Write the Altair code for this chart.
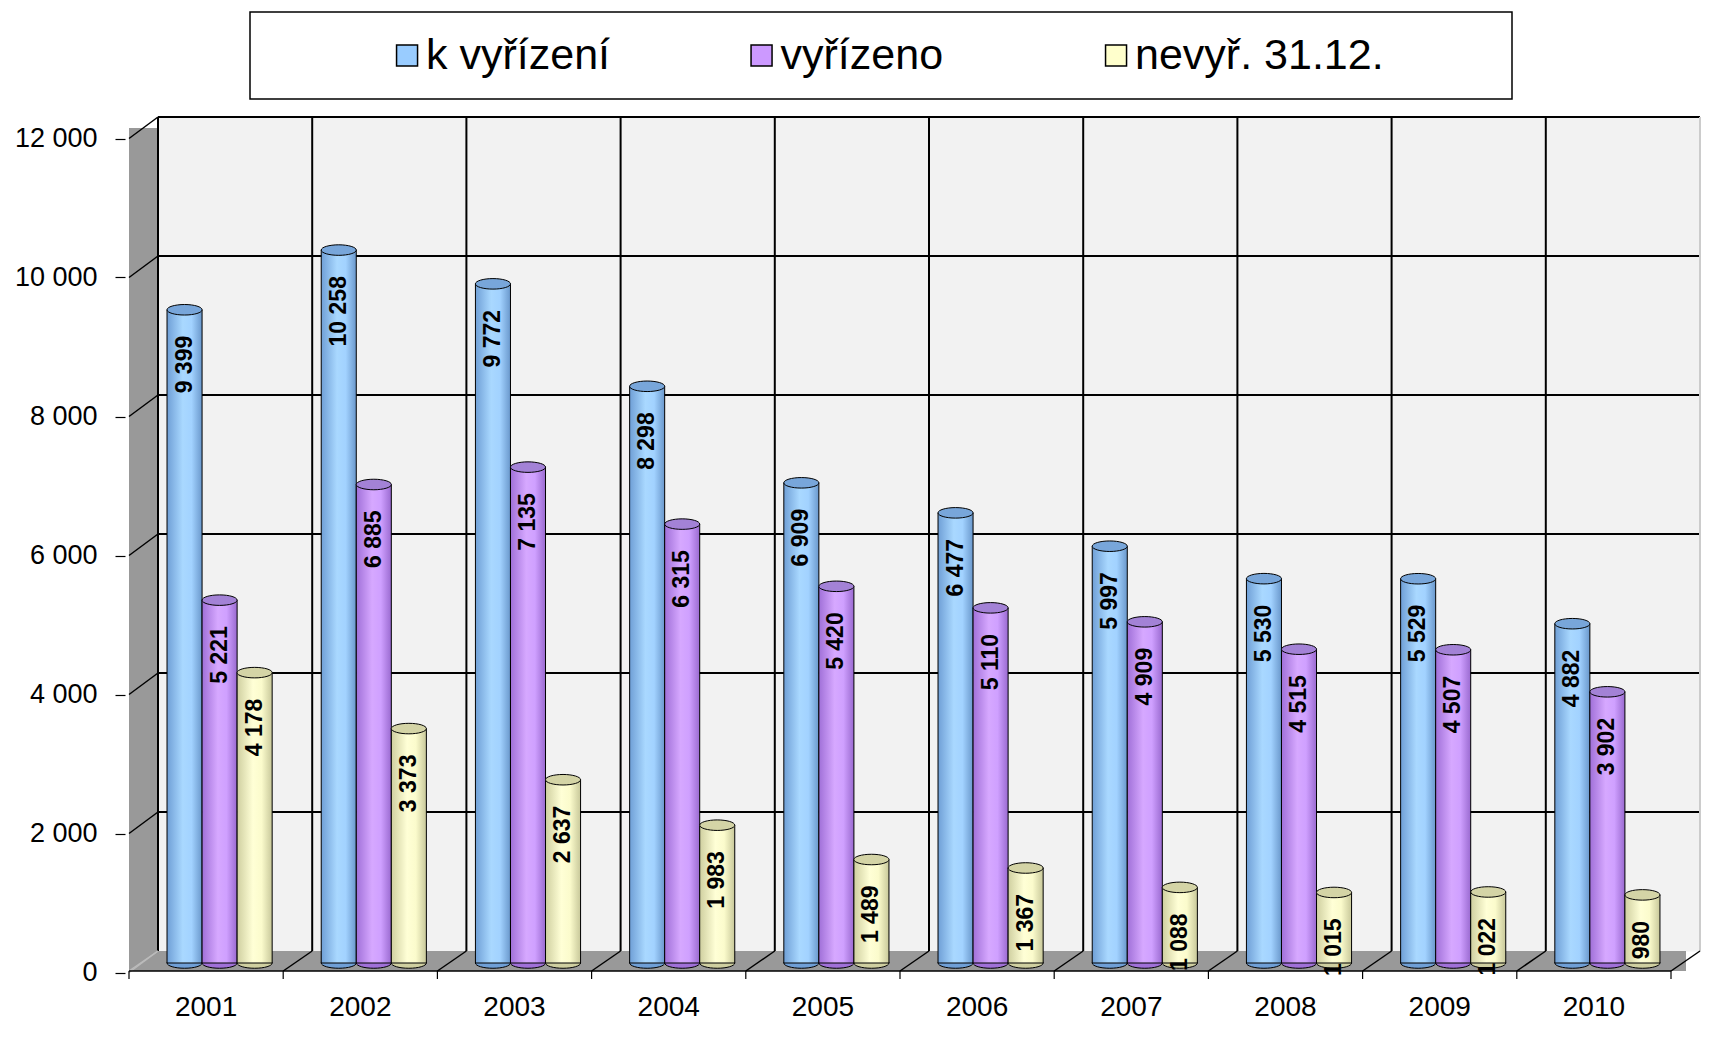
import altair as alt
import pandas as pd

FONT = "Liberation Sans"

years = ["2001", "2002", "2003", "2004", "2005", "2006", "2007", "2008", "2009", "2010"]
series = ["k vyřízení", "vyřízeno", "nevyř. 31.12."]
k_vyrizeni = [9399, 10258, 9772, 8298, 6909, 6477, 5997, 5530, 5529, 4882]
vyrizeno = [5221, 6885, 7135, 6315, 5420, 5110, 4909, 4515, 4507, 3902]
nevyrizeno = [4178, 3373, 2637, 1983, 1489, 1367, 1088, 1015, 1022, 980]
y_ticks = [0, 2000, 4000, 6000, 8000, 10000, 12000]

legend_colors = ["#99ccff", "#cc99ff", "#ffffcc"]
cap_colors = ["#78a6da", "#a382d6", "#d4d4a6"]
grad_stops = [
    ["#6f9fd6", "#a9d8ff", "#a2d2ff", "#6a98cc"],
    ["#a070d8", "#d6a8ff", "#cfa0ff", "#9a6ad0"],
    ["#cfcfa0", "#ffffd6", "#fbfbcc", "#c8c89a"],
]

rows = []
for s, vals in zip(series, [k_vyrizeni, vyrizeno, nevyrizeno]):
    for yr, v in zip(years, vals):
        rows.append({"year": yr, "series": s, "value": v,
                     "label": f"{v:,}".replace(",", " ")})
df = pd.DataFrame(rows)
bounds_df = pd.DataFrame({"k": list(range(len(years) + 1))})
grid_df = pd.DataFrame({"v": y_ticks})
one_df = pd.DataFrame({"one": [1]})

W, H = 1542, 834
DEPTH_X = -29
DEPTH_Y = 20
BAR_SHIFT = 12

yscale = alt.Scale(domain=[0, 12000], nice=False, zero=True)
kscale = alt.Scale(domain=[0, len(years)], nice=False, zero=False)
xband_scale = alt.Scale(domain=years, paddingInner=0, paddingOuter=0)
xoff_scale = alt.Scale(domain=series, paddingInner=0, paddingOuter=0.70, align=0.184)


def kx(field=None, datum=None):
    if field is not None:
        return alt.X(field, type="quantitative", scale=kscale, axis=None)
    return alt.XDatum(datum, type="quantitative", scale=kscale, axis=None)


def yd(v):
    return alt.YDatum(v, type="quantitative", scale=yscale, axis=None)


# ---- y axis panel (ticks/labels at the front edge of the 3D box) ----
yaxis_panel = alt.Chart(grid_df).mark_rule(opacity=0).encode(
    y=alt.Y("v:Q", scale=yscale, axis=alt.Axis(
        values=y_ticks, title=None, grid=False, domain=False, format=",d",
        tickColor="black", tickSize=10, tickWidth=1.2, tickOffset=21.5,
        labelFontSize=27, labelPadding=18, labelColor="black", labelFont=FONT))
).properties(width=1, height=H, view=alt.ViewBackground(stroke="transparent"))

# left side wall
wall = alt.Chart(one_df).mark_rect(
    fill="#999999", xOffset=DEPTH_X, yOffset=11, y2Offset=DEPTH_Y
).encode(x=kx(datum=0), x2=alt.X2Datum(0), y=yd(12000), y2=alt.Y2Datum(0))

# floor
floor = alt.Chart(one_df).mark_rect(
    fill="#999999", xOffset=DEPTH_X, x2Offset=-14, y2Offset=DEPTH_Y
).encode(x=kx(datum=0), x2=alt.X2Datum(len(years)), y=yd(0), y2=alt.Y2Datum(0))

# back wall horizontal grid lines
hgrid = alt.Chart(grid_df).transform_filter("datum.v > 0").mark_rule(
    strokeWidth=2, color="black"
).encode(
    x=kx(datum=0), x2=alt.X2Datum(len(years)),
    y=alt.Y("v:Q", scale=yscale, axis=None),
)

# back wall vertical category separators
vgrid = alt.Chart(bounds_df).mark_rule(strokeWidth=2).encode(
    x=kx("k"), y=yd(0), y2=alt.Y2Datum(12000),
    color=alt.condition("datum.k < 10", alt.value("black"), alt.value("#cccccc")),
)

# diagonals on the side wall
wall_diag = alt.Chart(grid_df).mark_rule(
    strokeWidth=1.5, xOffset=DEPTH_X, yOffset=21.5
).encode(
    x=kx(datum=0), x2=alt.X2Datum(0),
    y=alt.Y("v:Q", scale=yscale, axis=None), y2=alt.Y2("v:Q"),
    color=alt.condition("datum.v > 0", alt.value("black"), alt.value("#bbbbbb")),
)

# diagonals on the floor
floor_diag = alt.Chart(bounds_df).mark_rule(
    strokeWidth=1.5, xOffset=DEPTH_X, yOffset=DEPTH_Y
).encode(
    x=kx("k"), x2=alt.X2("k:Q"), y=yd(0), y2=alt.Y2Datum(0),
    color=alt.condition("datum.k > 0", alt.value("black"), alt.value("#bbbbbb")),
)

# front edge of the floor
front_edge = alt.Chart(one_df).mark_rule(
    color="black", strokeWidth=1.5, xOffset=DEPTH_X, x2Offset=DEPTH_X, yOffset=DEPTH_Y
).encode(x=kx(datum=0), x2=alt.X2Datum(len(years)), y=yd(0))

# front ticks
front_ticks = alt.Chart(bounds_df).mark_rule(
    color="black", strokeWidth=1.2, xOffset=DEPTH_X, yOffset=DEPTH_Y, y2Offset=DEPTH_Y + 8
).encode(x=kx("k"), y=yd(0), y2=alt.Y2Datum(0))

x_axis_layer_x = alt.X("year:N", sort=years, scale=xband_scale, axis=alt.Axis(
    title=None, ticks=False, domain=False, labelAngle=0, labelFontSize=28,
    labelColor="black", labelFont=FONT, labelOffset=-29, labelPadding=22, offset=20))
xb = alt.X("year:N", sort=years, scale=xband_scale, axis=None)
xo = alt.XOffset("series:N", sort=series, scale=xoff_scale)

ELLIPSE = "M-1,0A1,0.3,0,1,1,1,0A1,0.3,0,1,1,-1,0Z"

bar_layers = []
for i, s in enumerate(series):
    base = alt.Chart(df).transform_filter(alt.datum.series == s)
    st = grad_stops[i]
    grad = alt.LinearGradient(
        gradient="linear", x1=0, x2=1, y1=0, y2=0,
        stops=[alt.GradientStop(color=st[0], offset=0),
               alt.GradientStop(color=st[1], offset=0.45),
               alt.GradientStop(color=st[2], offset=0.7),
               alt.GradientStop(color=st[3], offset=1)])
    bottom = base.mark_point(
        shape=ELLIPSE, size=1230, filled=True, fill=st[0], stroke="black",
        strokeWidth=1, opacity=1, yOffset=BAR_SHIFT
    ).encode(x=x_axis_layer_x if i == 0 else xb, xOffset=xo, y=yd(0))
    bar = base.mark_bar(
        fill=grad, stroke="black", strokeWidth=1, yOffset=BAR_SHIFT, y2Offset=BAR_SHIFT
    ).encode(x=xb, xOffset=xo, y=alt.Y("value:Q", scale=yscale, axis=None), y2=alt.Y2Datum(0))
    cap = base.mark_point(
        shape=ELLIPSE, size=1230, filled=True, fill=cap_colors[i], stroke="black",
        strokeWidth=1, opacity=1, yOffset=BAR_SHIFT
    ).encode(x=xb, xOffset=xo, y=alt.Y("value:Q", scale=yscale, axis=None))
    bar_layers += [bottom, bar, cap]

labels = alt.Chart(df).mark_text(
    angle=270, align="right", baseline="middle", dx=-26, fontSize=23,
    fontWeight="bold", font=FONT, color="black", yOffset=BAR_SHIFT
).encode(x=xb, xOffset=xo, y=alt.Y("value:Q", scale=yscale, axis=None), text="label:N")

main = alt.layer(
    wall, floor, hgrid, vgrid, wall_diag, floor_diag, front_edge, front_ticks,
    *bar_layers, labels
).resolve_scale(x="independent").properties(
    width=W, height=H,
    view=alt.ViewBackground(fill="#f2f2f2", stroke="transparent"),
)

# legend panel
legend_df = pd.DataFrame({"series": series})
lx = alt.X("series:N", sort=series, scale=alt.Scale(type="point", domain=series,
           padding=0.78, align=0.284), axis=None)
sym = alt.Chart(legend_df).mark_point(
    shape="square", size=441, filled=True, stroke="black", strokeWidth=1.5, opacity=1
).encode(x=lx, color=alt.Color("series:N", sort=series,
         scale=alt.Scale(domain=series, range=legend_colors), legend=None))
txt = alt.Chart(legend_df).mark_text(
    align="left", baseline="middle", dx=19, fontSize=43, font=FONT, color="black"
).encode(x=lx, text="series:N")
legend = alt.layer(sym, txt).properties(
    width=1262, height=87,
    view=alt.ViewBackground(fill="white", stroke="black", strokeWidth=1.5),
)

spacer = alt.Chart(one_df).mark_point(opacity=0, size=0).encode(
    x=alt.value(0), y=alt.value(0)
).properties(width=123, height=87, view=alt.ViewBackground(stroke="transparent"))

chart = alt.vconcat(
    alt.hconcat(spacer, legend, spacing=0),
    alt.hconcat(yaxis_panel, main, spacing=0),
    spacing=15,
).properties(
    padding={"left": 5, "top": 3, "right": 5, "bottom": 5},
    background="white",
).configure(
    font=FONT,
    locale=alt.Locale(number=alt.NumberLocale(
        decimal=",", thousands=" ", grouping=[3], currency=["", " Kč"])),
)

chart.save("out.html", embed_options={"renderer": "svg", "actions": False})
